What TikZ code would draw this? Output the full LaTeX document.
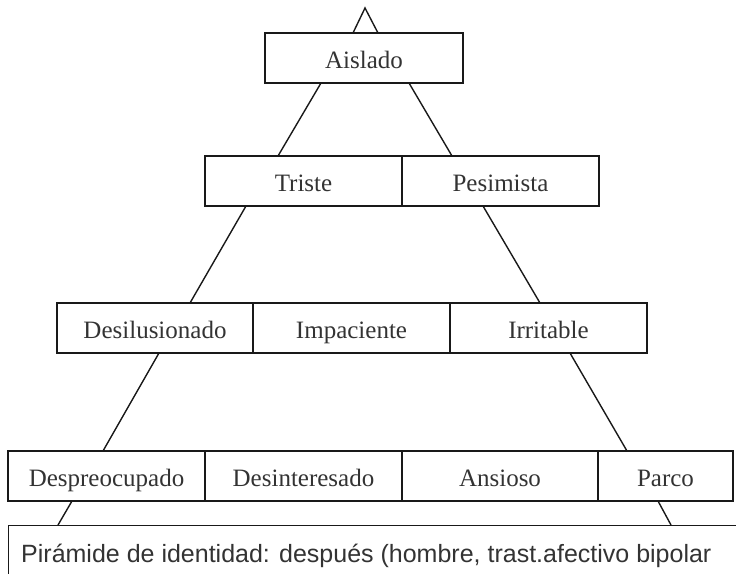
\documentclass[tikz,border=0pt]{standalone}
\usepackage{fontspec}
\setmainfont{Liberation Serif}
\newfontfamily\capfont{Liberation Sans}
\begin{document}
\begin{tikzpicture}[x=1pt,y=-1pt,
  cell/.style={draw=black!90,line width=1.4pt,rectangle,inner sep=0pt,text height=21pt,text depth=0pt,font=\fontsize{25}{27}\selectfont,text=black!80},
  link/.style={draw=black!90,line width=1.4pt}]
\useasboundingbox (0,0) rectangle (736,573);
\clip (0,0) rectangle (736,573);
\newcommand\mycell[6]{\node[cell,minimum width={#3-#2},minimum height={#5-#4}] (#1) at ({(#2+#3)/2},{(#4+#5)/2}) {#6};}
\mycell{aislado}{265}{463}{33}{83}{Aislado}
\mycell{triste}{205}{402}{156}{206}{Triste}
\mycell{pesimista}{402}{599}{156}{206}{Pesimista}
\mycell{desil}{57}{253}{303}{353}{Desilusionado}
\mycell{impac}{253}{450}{303}{353}{Impaciente}
\mycell{irrit}{450}{647}{303}{353}{Irritable}
\mycell{despre}{8}{205}{451}{501}{Despreocupado}
\mycell{desint}{205}{402}{451}{501}{Desinteresado}
\mycell{ansioso}{402}{598}{451}{501}{Ansioso}
\mycell{parco}{598}{733}{451}{501}{Parco}
\node[draw=black!90,line width=1.4pt,rectangle,inner sep=0pt,minimum width=760,minimum height=70,anchor=north west] (base) at (8,525) {};
\node[anchor=base west,inner sep=0pt,font=\capfont\fontsize{25}{27}\selectfont,text=black!80] (caption) at (21,562) {Pirámide de identidad: después (hombre, trast.afectivo bipolar};
\coordinate (apex) at (365,8);
\coordinate (a1) at (353,33); \coordinate (a2) at (378,33);
\coordinate (b1) at (321,83); \coordinate (b2) at (409,83);
\coordinate (c1) at (278,156); \coordinate (c2) at (452,156);
\coordinate (d1) at (246,206); \coordinate (d2) at (483,206);
\coordinate (e1) at (190,303); \coordinate (e2) at (540,303);
\coordinate (f1) at (159,353); \coordinate (f2) at (570,353);
\coordinate (g1) at (103,451); \coordinate (g2) at (627,451);
\coordinate (h1) at (72,501); \coordinate (h2) at (658,501);
\coordinate (i1) at (58,525); \coordinate (i2) at (671,525);
\draw[link] (a1) -- (apex) -- (a2);
\draw[link] (b1) -- (c1); \draw[link] (b2) -- (c2);
\draw[link] (d1) -- (e1); \draw[link] (d2) -- (e2);
\draw[link] (f1) -- (g1); \draw[link] (f2) -- (g2);
\draw[link] (h1) -- (i1); \draw[link] (h2) -- (i2);
\end{tikzpicture}
\end{document}
